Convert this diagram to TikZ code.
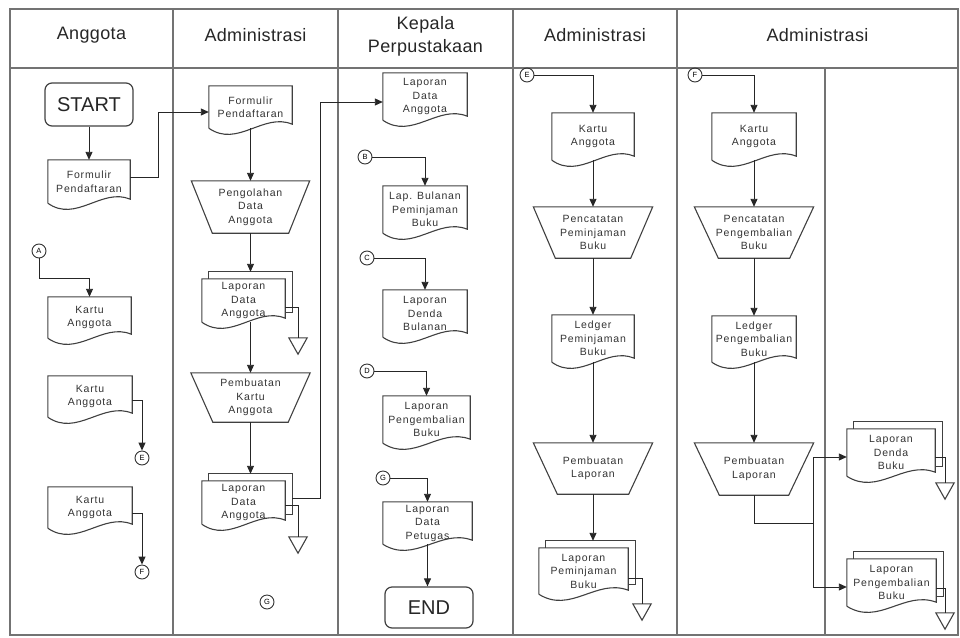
\documentclass[tikz,border=0pt]{standalone}
\usepackage{fontspec}
\setmainfont{Liberation Sans}
\newfontfamily\boxfont[LetterSpace=8]{Liberation Sans}
\newfontfamily\headfont[LetterSpace=2]{Liberation Sans}
\usetikzlibrary{arrows.meta,calc}

\newcommand\docpath[1]{%
  \draw[shp] (#1.south west) -- (#1.north west) -- (#1.north east) -- ([yshift=4pt]#1.south east)
    .. controls ([xshift=13pt,yshift=16pt]#1.south) and ([xshift=-13pt,yshift=-20pt]#1.south) .. (#1.south west);}
\newcommand\mdocpath[1]{%
  \docpath{#1}%
  \draw[shp] ([xshift=7pt]#1.north west) -- ([xshift=7pt,yshift=7pt]#1.north west) -- ([xshift=7pt,yshift=7pt]#1.north east)
    -- ([xshift=7pt,yshift=10pt]#1.south east) -- ([yshift=10pt]#1.south east);}
\newcommand\trappath[2]{%
  \draw[shp] (#1.north west) -- (#1.north east) -- ([xshift=-#2pt]#1.south east) -- ([xshift=#2pt]#1.south west) -- cycle;}
\newcommand\tripath[1]{%
  \draw[shp] (#1.north west) -- (#1.north east) -- (#1.south) -- cycle;}

\tikzset{
  ln/.style={line width=0.9pt, draw=black!85},
  arr/.style={ln, -{Triangle[length=8pt,width=7pt]}},
  shp/.style={line width=1.1pt, draw=black!75},
  frame/.style={line width=1.6pt, draw=black!55},
  txt/.style={font=\boxfont\fontsize{10.5}{13.5}\selectfont, text=black!80, align=center, inner sep=0pt},
  box/.style={txt, draw=none},
  termbox/.style={draw=black!75, line width=1.2pt, rounded corners=7pt, font=\fontsize{20}{22}\selectfont, text=black!85, inner sep=0pt},
  circ/.style={circle, draw=black!80, line width=0.9pt, minimum size=14pt, inner sep=0pt, font=\fontsize{7.5}{7.5}\selectfont},
  trinode/.style={draw=none, minimum width=18pt, minimum height=16pt, inner sep=0pt},
  head/.style={font=\headfont\fontsize{18}{23}\selectfont, text=black!85, align=center, inner sep=0pt}
}

\begin{document}
\begin{tikzpicture}[x=1pt,y=-1pt]
\useasboundingbox (0,0) rectangle (960,637);
% frame and lanes
\draw[frame] (10,9) rectangle (958,635);
\draw[frame] (10,68) -- (958,68);
\foreach \xx in {173,338,513,677} \draw[frame] (\xx,9) -- (\xx,635);
\draw[frame] (825,68) -- (825,635);

% headers
\node[head] (h1) at (91.5,35) {Anggota};
\node[head] (h2) at (255.5,35) {Administrasi};
\node[head] (h3) at (425.5,36) {Kepala\\Perpustakaan};
\node[head] (h4) at (595,35) {Administrasi};
\node[head] (h5) at (817.5,35) {Administrasi};

% Anggota lane
\node[termbox, minimum width=88pt, minimum height=43pt] (start) at (89,104.5) {START};
\node[box, minimum width=82pt, minimum height=43pt] (f1) at (89,181.5) {Formulir\\Pendaftaran};
\node[circ] (A) at (39,251) {A};
\node[box, minimum width=83pt, minimum height=41pt] (k1) at (89.5,317.5) {Kartu\\Anggota};
\node[box, minimum width=84pt, minimum height=41pt] (k2) at (90,396.5) {Kartu\\Anggota};
\node[circ] (E) at (142,458) {E};
\node[box, minimum width=84pt, minimum height=41pt] (k3) at (90,507.5) {Kartu\\Anggota};
\node[circ] (F) at (142,572) {F};

% Administrasi lane 1
\node[box, minimum width=83pt, minimum height=42pt] (af1) at (250.5,107) {Formulir\\Pendaftaran};
\node[box, minimum width=118pt, minimum height=52pt] (tp1) at (250.5,207) {Pengolahan\\Data\\Anggota};
\node[box, minimum width=83pt, minimum height=43pt] (md1) at (243.5,300.5) {Laporan\\Data\\Anggota};
\node[trinode] (tr1) at (298,346) {};
\node[box, minimum width=119pt, minimum height=49pt] (tp2) at (250.5,397.5) {Pembuatan\\Kartu\\Anggota};
\node[box, minimum width=83pt, minimum height=43pt] (md2) at (243.5,502.5) {Laporan\\Data\\Anggota};
\node[trinode] (tr2) at (298,545) {};
\node[circ] (G1) at (267,602) {G};

% Kepala Perpustakaan lane
\node[box, minimum width=84pt, minimum height=47pt] (kd1) at (425,96.5) {Laporan\\Data\\Anggota};
\node[circ] (B) at (365,157) {B};
\node[box, minimum width=84pt, minimum height=47pt] (kd2) at (425,209.5) {Lap. Bulanan\\Peminjaman\\Buku};
\node[circ] (C) at (367,258) {C};
\node[box, minimum width=84pt, minimum height=47pt] (kd3) at (425,313.5) {Laporan\\Denda\\Bulanan};
\node[circ] (D) at (367,371) {D};
\node[box, minimum width=87pt, minimum height=47pt] (kd4) at (426.5,419.5) {Laporan\\Pengembalian\\Buku};
\node[circ] (G2) at (383,478) {G};
\node[box, minimum width=89pt, minimum height=42pt] (kd5) at (427.5,523) {Laporan\\Data\\Petugas};
\node[termbox, minimum width=88pt, minimum height=41pt] (endn) at (429,607.5) {END};

% Administrasi lane 2
\node[circ] (E2) at (527,75) {E};
\node[box, minimum width=82pt, minimum height=47pt] (dk1) at (593,136.5) {Kartu\\Anggota};
\node[box, minimum width=119pt, minimum height=51pt] (tp3) at (593,232.5) {Pencatatan\\Peminjaman\\Buku};
\node[box, minimum width=82pt, minimum height=47pt] (dk2) at (593,338.5) {Ledger\\Peminjaman\\Buku};
\node[box, minimum width=119pt, minimum height=51pt] (tp4) at (593,468.5) {Pembuatan\\Laporan};
\node[box, minimum width=89pt, minimum height=46pt] (md3) at (583.5,571) {Laporan\\Peminjaman\\Buku};
\node[trinode] (tr3) at (642,612) {};

% Administrasi lane 3
\node[circ] (F2) at (695,75) {F};
\node[box, minimum width=84pt, minimum height=47pt] (fk1) at (754,136.5) {Kartu\\Anggota};
\node[box, minimum width=119pt, minimum height=51pt] (tp5) at (754,232.5) {Pencatatan\\Pengembalian\\Buku};
\node[box, minimum width=84pt, minimum height=46pt] (fk2) at (754,339) {Ledger\\Pengembalian\\Buku};
\node[box, minimum width=119pt, minimum height=52pt] (tp6) at (754,469) {Pembuatan\\Laporan};
\node[box, minimum width=88pt, minimum height=47pt] (md4) at (891,452.5) {Laporan\\Denda\\Buku};
\node[trinode] (tr4) at (945,491) {};
\node[box, minimum width=89pt, minimum height=47pt] (md5) at (891.5,582.5) {Laporan\\Pengembalian\\Buku};
\node[trinode] (tr5) at (945,621) {};
\coordinate (j) at (813,523);

% shapes
\foreach \n in {f1,k1,k2,k3,af1,kd1,kd2,kd3,kd4,kd5,dk1,dk2,fk1,fk2} {\docpath{\n}}
\foreach \n in {md1,md2,md3,md4,md5} {\mdocpath{\n}}
\trappath{tp1}{21}
\trappath{tp2}{22}
\trappath{tp3}{22}
\trappath{tp4}{24}
\trappath{tp5}{24}
\trappath{tp6}{25}
\foreach \n in {tr1,tr2,tr3,tr4,tr5} {\tripath{\n}}

% connectors - Anggota
\draw[arr] (start.south) -- (f1.north);
\draw[arr] ([yshift=4.5pt]f1.east) -- ++(28,0) |- ([yshift=-5pt]af1.west);
\draw[arr] (A.south) -- ++(0,20) -| (k1.north);
\draw[arr] ([yshift=-3.5pt]k2.east) -| (E.north);
\draw[arr] ([yshift=-5.5pt]k3.east) -| (F.north);

% connectors - Administrasi 1
\draw[arr] (af1.south) -- (tp1.north);
\draw[arr] (tp1.south) -- ($(tp1.south |- md1.north)+(0,-7)$);
\draw[ln] ([yshift=-7pt]md1.east) -| (tr1.north);
\draw[arr] (tp2.north |- md1.south) -- (tp2.north);
\draw[arr] (tp2.south) -- ($(tp2.south |- md2.north)+(0,-7)$);
\draw[ln] ([yshift=-3pt]md2.east) -| (tr2.north);
\draw[arr] ([xshift=7pt,yshift=4pt]md2.east) -- ++(28,0) |- ([yshift=-5.5pt]kd1.west);

% connectors - Kepala
\draw[arr] (B.east) -| (kd2.north);
\draw[arr] (C.east) -| (kd3.north);
\draw[arr] (D.east) -| (kd4.north);
\draw[arr] (G2.east) -| (kd5.north);
\draw[arr] (kd5.south) -- (kd5.south |- endn.north);

% connectors - Administrasi 2
\draw[arr] (E2.east) -| (dk1.north);
\draw[arr] (dk1.south) -- (tp3.north);
\draw[arr] (tp3.south) -- (dk2.north);
\draw[arr] (dk2.south) -- (tp4.north);
\draw[arr] (tp4.south) -- ($(tp4.south |- md3.north)+(0,-7)$);
\draw[ln] ([yshift=-7pt]md3.east) -| (tr3.north);

% connectors - Administrasi 3
\draw[arr] (F2.east) -| (fk1.north);
\draw[arr] (fk1.south) -- (tp5.north);
\draw[arr] (tp5.south) -- (fk2.north);
\draw[arr] (fk2.south) -- (tp6.north);
\draw[ln] (tp6.south) |- (j);
\draw[arr] (j) |- ([yshift=-4.5pt]md4.west);
\draw[arr] (j) |- ([yshift=-4.5pt]md5.west);
\draw[ln] ([yshift=-4.5pt]md4.east) -| (tr4.north);
\draw[ln] ([yshift=-5.5pt]md5.east) -| (tr5.north);
\end{tikzpicture}
\end{document}
